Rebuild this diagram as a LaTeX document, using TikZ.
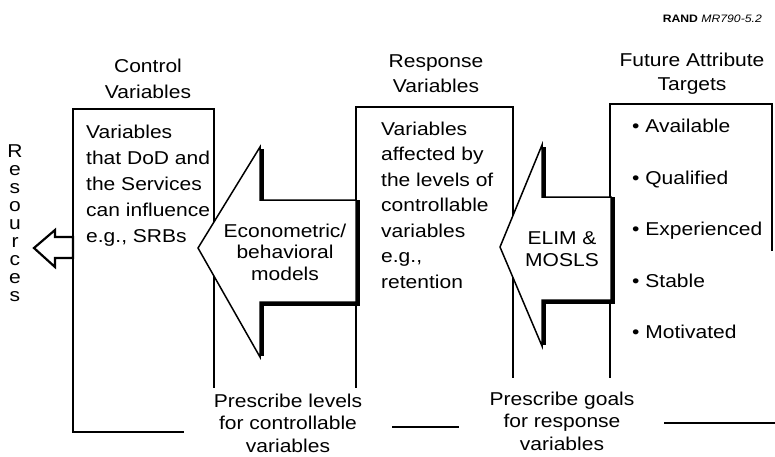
\documentclass[tikz,border=0pt]{standalone}
\usepackage{fontspec}
\setmainfont{Liberation Sans}[FakeStretch=1.13]
\tikzset{
  boxline/.style={line width=1.6pt, line cap=rect},
  arrowbody/.style={line width=1.5pt, fill=white, line join=miter},
  shadowline/.style={line width=4.5pt, line join=miter},
  txt/.style={inner sep=0pt, font=\fontsize{18.6}{26}\selectfont},
}
\begin{document}
\begin{tikzpicture}[x=1pt,y=-1pt]
\useasboundingbox (0,0) rectangle (775,456);
% ---- boxes ----
\draw[boxline] (183,432) -- (73,432) -- (73,109) -- (214,109) -- (214,387);
\draw[boxline] (356,387) -- (356,107) -- (513,107) -- (513,377);
\draw[boxline] (393,427) -- (458,427);
\draw[boxline] (610,377) -- (610,104) -- (772,104) -- (772,250);
\draw[boxline] (665,423) -- (775,423);
% ---- arrow 1 ----
\draw[arrowbody] (198,248) -- (260,147) -- (260,200) -- (356,200) -- (356,302) -- (260,302) -- (260,357) -- cycle;
\draw[shadowline] (262.2,149) -- (262.2,201);
\draw[shadowline] (358.2,200) -- (358.2,304.2) -- (262.2,304.2) -- (262.2,356);
% ---- arrow 2 ----
\draw[arrowbody] (500,247) -- (542,145) -- (542,197) -- (611,197) -- (611,300) -- (542,300) -- (542,346) -- cycle;
\draw[shadowline] (544.2,147) -- (544.2,198);
\draw[shadowline] (613.2,197) -- (613.2,302.2) -- (544.2,302.2) -- (544.2,345);
% ---- resources arrow ----
\draw[line width=2.2pt, fill=white, line join=miter] (34,248) -- (55,230) -- (55,237) -- (73,237) -- (73,258) -- (55,258) -- (55,267) -- cycle;
\draw[boxline] (73,230) -- (73,270);
% ---- texts ----
\node[font=\fontsize{10.8}{13}\selectfont, inner sep=0pt, anchor=base east] (rand) at (762,22) {\textbf{RAND} \textit{MR790-5.2}};
\node[txt, anchor=north, align=center] (ctitle) at (148,58.5) {Control\\Variables};
\node[txt, anchor=north, align=center, font=\fontsize{18.6}{25}\selectfont] (rtitle) at (436,54.5) {Response\\Variables};
\node[txt, anchor=north, align=center, font=\fontsize{18.6}{24}\selectfont] (ftitle) at (692,52.5) {Future Attribute\\Targets};
\node[txt, anchor=north west, align=left] (ctext) at (86,124.5) {Variables\\that DoD and\\the Services\\can influence\\e.g., SRBs};
\node[txt, anchor=north west, align=left, font=\fontsize{18.6}{25.5}\selectfont] (rtext) at (381,121.5) {Variables\\affected by\\the levels of\\controllable\\variables\\e.g.,\\retention};
\node[txt, anchor=north, align=center, font=\fontsize{18.6}{21.5}\selectfont] (econ) at (285,223.5) {Econometric/\\behavioral\\models};
\node[txt, anchor=north, align=center, font=\fontsize{18.6}{22}\selectfont] (elim) at (562,231.5) {ELIM \&\\MOSLS};
\node[txt, anchor=north, align=center, font=\fontsize{18.6}{22.8}\selectfont] (plev) at (288,393.5) {Prescribe levels\\for controllable\\variables};
\node[txt, anchor=north, align=center, font=\fontsize{18.6}{22.5}\selectfont] (pgoal) at (562,391.5) {Prescribe goals\\for response\\variables};
\node[txt, anchor=base west] (b1) at (632,132) {• Available};
\node[txt, anchor=base west] (b2) at (632,184) {• Qualified};
\node[txt, anchor=base west] (b3) at (632,235) {• Experienced};
\node[txt, anchor=base west] (b4) at (632,287) {• Stable};
\node[txt, anchor=base west] (b5) at (632,338) {• Motivated};
\node[txt, anchor=north, align=center, font=\fontsize{18.6}{18}\selectfont] (res) at (15,144.6) {R\\e\\s\\o\\u\\r\\c\\e\\s};
\end{tikzpicture}
\end{document}
